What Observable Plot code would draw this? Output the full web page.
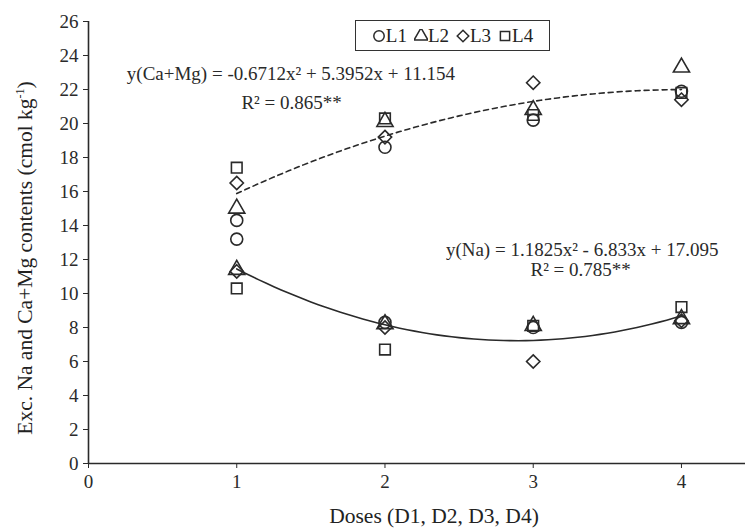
<!DOCTYPE html>
<html><head><meta charset="utf-8">
<script src="https://cdn.jsdelivr.net/npm/d3@7"></script>
<script src="https://cdn.jsdelivr.net/npm/@observablehq/plot@0.6"></script>
<style>
body{margin:0;background:#fff;}
#wrap{position:relative;width:745px;height:529px;font-family:"Liberation Serif","Times New Roman",serif;color:#222;overflow:hidden;}
#legend{position:absolute;left:355px;top:20px;width:195px;height:31px;border:1.5px solid #333;background:#fff;display:flex;align-items:center;justify-content:center;gap:7px;font-size:19px;box-sizing:border-box;}
#legend span{display:flex;align-items:center;}
.ttl{position:absolute;white-space:nowrap;font-size:21.5px;transform:translate(-50%,-50%);}
.ttl sup{font-size:12px;vertical-align:8px;}
</style></head><body><div id="wrap"></div>
<script>
// ---- data ----
const doses = [1, 2, 3, 4];
const lots = ["L1", "L2", "L3", "L4"];
const lotSymbols = ["circle", "triangle", "diamond2", "square"];
// Exchangeable Na (cmol kg-1) per dose
const naL1 = [13.2, 8.3, 8.0, 8.3];
const naL2 = [11.4, 8.2, 8.1, 8.5];
const naL3 = [11.3, 8.0, 6.0, 8.4];
const naL4 = [10.3, 6.7, 8.1, 9.2];
// Exchangeable Ca+Mg (cmol kg-1) per dose
const caMgL1 = [14.3, 18.6, 20.2, 21.9];
const caMgL2 = [15.0, 20.1, 20.8, 23.3];
const caMgL3 = [16.5, 19.2, 22.4, 21.4];
const caMgL4 = [17.4, 20.3, 20.5, 21.8];
// fitted quadratic coefficients printed on the chart [a, b, c] : a x^2 + b x + c
const caMgFit = [-0.6712, 5.3952, 11.154];
const naFit = [1.1825, -6.833, 17.095];
const caMgEq = ["y(Ca+Mg) = -0.6712x\u00b2 + 5.3952x + 11.154", "R\u00b2 = 0.865**"];
const naEq = ["y(Na) = 1.1825x\u00b2 - 6.833x + 17.095", "R\u00b2 = 0.785**"];
const yTicks = [0, 2, 4, 6, 8, 10, 12, 14, 16, 18, 20, 22, 24, 26];
const xTicks = [0, 1, 2, 3, 4];
const xTitle = "Doses (D1, D2, D3, D4)";
const yTitleMain = "Exc. Na and Ca+Mg contents (cmol kg";
const yTitleSup = "-1";

// ---- build tables ----
const naSeries = [naL1, naL2, naL3, naL4];
const caSeries = [caMgL1, caMgL2, caMgL3, caMgL4];
const points = [];
lots.forEach((lot, i) => doses.forEach((d, j) => {
  points.push({dose: d, value: caSeries[i][j], lot});
  points.push({dose: d, value: naSeries[i][j], lot});
}));
const quad = (c) => d3.range(1, 4.0001, 0.05).map(x => ({x, y: c[0]*x*x + c[1]*x + c[2]}));
const caCurve = quad(caMgFit);
const naCurve = quad(naFit);
const ink = "#2a2a2a";
const eqText = [
  {x: 1.365, y: 22.9, t: caMgEq[0]}, {x: 1.37, y: 21.2, t: caMgEq[1]},
  {x: 3.33, y: 12.55, t: naEq[0]}, {x: 3.32, y: 11.4, t: naEq[1]}
];

const chart = Plot.plot({
  width: 745, height: 529,
  marginLeft: 88, marginRight: 0, marginTop: 21, marginBottom: 66,
  style: {fontFamily: '"Liberation Serif","Times New Roman",serif', fontSize: "19px", color: ink, background: "#fff"},
  x: {domain: [0, 4.432]},
  y: {domain: [0, 26]},
  symbol: {domain: lots, range: lotSymbols},
  marks: [
    Plot.axisY({ticks: yTicks, tickSize: 5, tickPadding: 5, label: null, stroke: ink, fontSize: 19}),
    Plot.axisX({ticks: xTicks, tickSize: 5, tickPadding: 6, label: null, tickFormat: d => String(d), stroke: ink, fontSize: 19}),
    Plot.ruleY([0], {stroke: ink, strokeWidth: 1.6}),
    Plot.ruleX([0], {stroke: ink, strokeWidth: 1.6}),
    Plot.line(caCurve, {x: "x", y: "y", stroke: ink, strokeWidth: 1.6, strokeDasharray: "5,4"}),
    Plot.line(naCurve, {x: "x", y: "y", stroke: ink, strokeWidth: 1.6}),
    Plot.dot(points, {x: "dose", y: "value", symbol: "lot", r: 6, fill: "none", stroke: ink, strokeWidth: 1.6}),
    Plot.text(eqText, {x: "x", y: "y", text: "t", fontSize: 19, fill: ink})
  ]
});
const wrap = document.getElementById("wrap");
wrap.appendChild(chart);

// legend
const leg = document.createElement("div");
leg.id = "legend";
const symFns = {circle: d3.symbolCircle, triangle: d3.symbolTriangle, diamond2: d3.symbolDiamond2, square: d3.symbolSquare};
lots.forEach((lot, i) => {
  const s = document.createElement("span");
  const sym = d3.symbol(symFns[lotSymbols[i]], 85)();
  s.innerHTML = `<svg width="14" height="14" viewBox="-7 -7 14 14"><path d="${sym}" fill="none" stroke="${ink}" stroke-width="1.5"/></svg>${lot}`;
  leg.appendChild(s);
});
wrap.appendChild(leg);

// axis titles
const xt = document.createElement("div");
xt.className = "ttl"; xt.textContent = xTitle;
xt.style.left = "434px"; xt.style.top = "516px";
wrap.appendChild(xt);
const yt = document.createElement("div");
yt.className = "ttl";
yt.innerHTML = `${yTitleMain}<sup>${yTitleSup}</sup>)`;
yt.style.left = "25px"; yt.style.top = "258px";
yt.style.transform = "translate(-50%,-50%) rotate(-90deg)";
wrap.appendChild(yt);
</script></body></html>
